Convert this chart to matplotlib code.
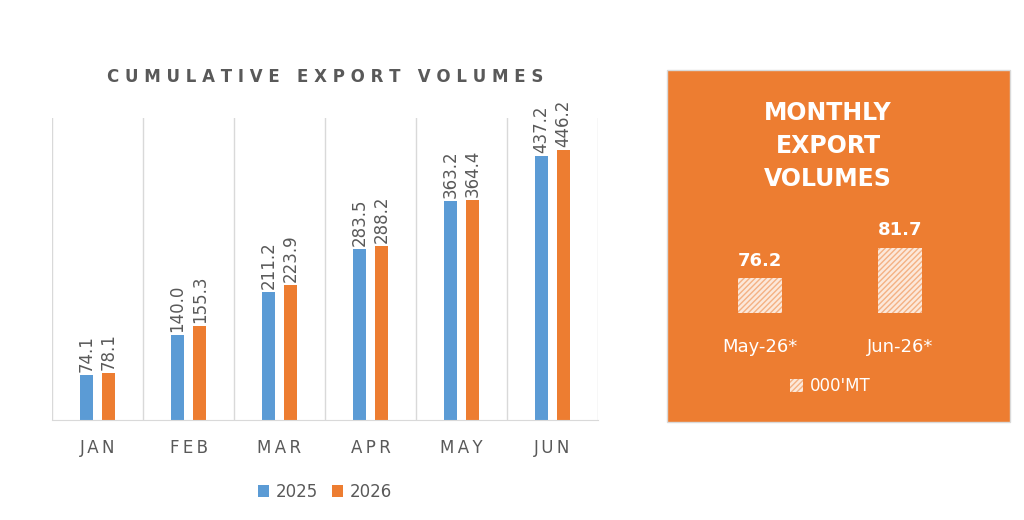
import numpy as np
import matplotlib.pyplot as plt
from matplotlib.patches import Rectangle

months = ['JAN', 'FEB', 'MAR', 'APR', 'MAY', 'JUN']
cum_2025 = [74.1, 140.0, 211.2, 283.5, 363.2, 437.2]
cum_2026 = [78.1, 155.3, 223.9, 288.2, 364.4, 446.2]
monthly_labels = ['May-26*', 'Jun-26*']
monthly_values = [76.2, 81.7]

BLUE = '#5B9BD5'
ORANGE = '#ED7D31'
GRAY = '#595959'
W, H = 1024, 520

def box(x0, y0, x1, y1):
    return [x0 / W, 1 - y1 / H, (x1 - x0) / W, (y1 - y0) / H]

fig = plt.figure(figsize=(10.24, 5.2), dpi=100)

# left: cumulative chart
ax = fig.add_axes(box(52, 118, 598, 420))
x = np.arange(len(months))
bw = 0.145
gap = 0.1
b1 = ax.bar(x - bw / 2 - gap / 2, cum_2025, bw, color=BLUE, label='2025')
b2 = ax.bar(x + bw / 2 + gap / 2, cum_2026, bw, color=ORANGE, label='2026')
for bars in (b1, b2):
    for r in bars:
        ax.text(r.get_x() + r.get_width() / 2, r.get_height() + 5, f'{r.get_height():.1f}',
                rotation=90, ha='center', va='bottom', color=GRAY, fontsize=12)
ax.set_xlim(-0.5, len(months) - 0.5)
ax.set_ylim(0, 500)
ax.set_yticks([])
ax.set_xticks(x)
ax.set_xticklabels(['\u2009'.join(m) for m in months], color=GRAY, fontsize=12)
ax.tick_params(axis='x', length=0, pad=14)
for b in np.arange(-0.5, len(months), 1.0):
    ax.axvline(b, color='#D9D9D9', lw=1)
for s in ax.spines.values():
    s.set_visible(False)
ax.spines['bottom'].set_visible(True)
ax.spines['bottom'].set_color('#D9D9D9')
fig.text(325 / W, 1 - 77 / H, ' '.join('CUMULATIVE') + '   ' + ' '.join('EXPORT') + '   ' + ' '.join('VOLUMES'),
         ha='center', va='center', color=GRAY, fontsize=12, fontweight='bold')
fig.legend(handles=[b1, b2], loc='center', bbox_to_anchor=(325 / W, 1 - 492 / H), ncol=2,
           frameon=False, fontsize=12, handlelength=0.7, handleheight=0.7, columnspacing=0.8,
           handletextpad=0.4, labelcolor=GRAY)

# right: monthly panel
rect = Rectangle((667 / W, 1 - 422 / H), (1010 - 667) / W, (422 - 70) / H,
                 transform=fig.transFigure, facecolor=ORANGE, edgecolor='#D9D9D9', lw=1, zorder=-1)
fig.patches.append(rect)
fig.text(828 / W, 1 - 146 / H, 'MONTHLY\nEXPORT\nVOLUMES', ha='center', va='center',
         color='white', fontsize=17, fontweight='bold', linespacing=1.45)
ax2 = fig.add_axes(box(690, 230, 970, 313))
ax2.set_zorder(3)
ax2.patch.set_alpha(0)
plt.rcParams['hatch.color'] = '#F4B183'
mb = ax2.bar(np.arange(2), monthly_values, 0.31, bottom=0, color='#FCE8DA', hatch='//////', lw=0)
for r in mb:
    ax2.text(r.get_x() + r.get_width() / 2, r.get_height() + 1.5, f'{r.get_height():.1f}',
             ha='center', va='bottom', color='white', fontsize=13, fontweight='bold')
ax2.set_xlim(-0.5, 1.5)
ax2.set_ylim(70, 84.9)
ax2.set_yticks([])
ax2.set_xticks(np.arange(2))
ax2.set_xticklabels(monthly_labels, color='white', fontsize=13)
ax2.tick_params(axis='x', length=0, pad=18)
for s in ax2.spines.values():
    s.set_visible(False)
fig.legend(handles=[mb], labels=["000'MT"], loc='center', bbox_to_anchor=(830 / W, 1 - 386 / H),
           frameon=False, fontsize=12, handlelength=0.8, handleheight=0.8, handletextpad=0.4,
           labelcolor='white')

fig.savefig('out.png', dpi=100)
